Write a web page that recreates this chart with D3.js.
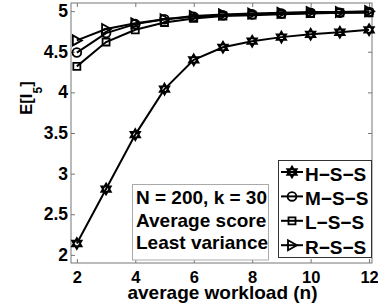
<!DOCTYPE html>
<meta charset="utf-8">
<style>
  body { margin: 0; background: #fff; }
  text { font-family: "Liberation Sans", Arial, sans-serif; font-weight: bold; fill: #000; }
</style>
<body>
<div id="chart"></div>
<script src="https://d3js.org/d3.v7.min.js"></script>
<script>
// data
var workload = [2, 3, 4, 5, 6, 7, 8, 9, 10, 11, 12];
var hss = [2.14, 2.81, 3.48, 4.04, 4.40, 4.555, 4.63, 4.68, 4.715, 4.74, 4.77];
var mss = [4.49, 4.73, 4.84, 4.90, 4.93, 4.95, 4.96, 4.97, 4.98, 4.98, 4.99];
var lss = [4.32, 4.62, 4.77, 4.86, 4.91, 4.94, 4.95, 4.96, 4.97, 4.98, 4.98];
var rss = [4.64, 4.78, 4.85, 4.90, 4.94, 4.96, 4.97, 4.98, 4.99, 4.99, 5.00];
var seriesNames = ["H\u2212S\u2212S", "M\u2212S\u2212S", "L\u2212S\u2212S", "R\u2212S\u2212S"];
var seriesMarkers = ["hexagram", "circle", "square", "triangle"];
var xTicks = [2, 4, 6, 8, 10, 12];
var yTicks = [2, 2.5, 3, 3.5, 4, 4.5, 5];
var noteLines = ["N = 200, k = 30", "Average score", "Least variance"];

var series = [hss, mss, lss, rss].map(function(vals, i) {
  return {name: seriesNames[i], marker: seriesMarkers[i],
          points: vals.map(function(v, j) { return [workload[j], v]; })};
});

var W = 378, H = 306;
var pLeft = 71, pRight = 372, pTop = 3, pBottom = 263;

var svg = d3.select("#chart").append("svg")
  .attr("width", W).attr("height", H);

var x = d3.scaleLinear().domain([1.8, 12.1]).range([pLeft, pRight]);
var y = d3.scaleLinear().domain([1.9, 5.1]).range([pBottom, pTop]);

// axes (ticks point inward, box on)
var axisColor = "#777";
function styleAxis(g, showLabels, size) {
  g.select(".domain").remove();
  g.selectAll(".tick line").attr("stroke", axisColor);
  if (!showLabels) g.selectAll(".tick text").remove();
  else g.selectAll(".tick text").attr("font-size", size).attr("font-family", "Liberation Sans, Arial, sans-serif")
      .attr("font-weight", "bold").attr("fill", "#000");
}
svg.append("g").attr("transform", "translate(0," + pBottom + ")")
  .call(d3.axisBottom(x).tickValues(xTicks).tickSizeInner(-4).tickSizeOuter(0).tickPadding(8.5).tickFormat(d3.format("d")))
  .call(styleAxis, true, 16.5);
svg.append("g").attr("transform", "translate(0," + pTop + ")")
  .call(d3.axisTop(x).tickValues(xTicks).tickSizeInner(-4).tickSizeOuter(0))
  .call(styleAxis, false);
svg.append("g").attr("transform", "translate(" + pLeft + ",0)")
  .call(d3.axisLeft(y).tickValues(yTicks).tickSizeInner(-4).tickSizeOuter(0).tickPadding(3).tickFormat(function(d) { return String(d); }))
  .call(styleAxis, true, 17.5);
svg.append("g").attr("transform", "translate(" + pRight + ",0)")
  .call(d3.axisRight(y).tickValues(yTicks).tickSizeInner(-4).tickSizeOuter(0))
  .call(styleAxis, false);
svg.append("rect")
  .attr("x", pLeft).attr("y", pTop).attr("width", pRight - pLeft).attr("height", pBottom - pTop)
  .attr("fill", "none").attr("stroke", axisColor).attr("stroke-width", 1);

// marker shapes
function markerPath(type) {
  if (type === "hexagram") {
    var r = 5.5, t1 = [], t2 = [];
    for (var k = 0; k < 3; k++) {
      var a1 = -Math.PI / 2 + k * 2 * Math.PI / 3;
      var a2 = Math.PI / 2 + k * 2 * Math.PI / 3;
      t1.push([r * Math.cos(a1), r * Math.sin(a1)]);
      t2.push([r * Math.cos(a2), r * Math.sin(a2)]);
    }
    return "M" + t1.join("L") + "Z M" + t2.join("L") + "Z";
  }
  if (type === "circle") return d3.symbol(d3.symbolCircle, 60)();
  if (type === "square") return "M-3.5,-3.5H3.5V3.5H-3.5Z";
  return "M-4,-5L5,0L-4,5Z";
}

var line = d3.line().x(function(d) { return x(d[0]); }).y(function(d) { return y(d[1]); });

var sg = svg.selectAll(".series").data(series).enter().append("g").attr("class", "series");
sg.append("path")
  .attr("d", function(d) { return line(d.points); })
  .attr("fill", "none").attr("stroke", "#000").attr("stroke-width", 2);
sg.each(function(s) {
  d3.select(this).selectAll(".mk").data(s.points).enter().append("path")
    .attr("class", "mk")
    .attr("transform", function(d) { return "translate(" + x(d[0]) + "," + y(d[1]) + ")"; })
    .attr("d", markerPath(s.marker))
    .attr("fill", "none").attr("stroke", "#000").attr("stroke-width", 1.8);
});

// axis labels
svg.append("text")
  .attr("x", 222.5).attr("y", 299)
  .attr("text-anchor", "middle").attr("font-size", 19)
  .text("average workload (n)");

var yl = svg.append("text")
  .attr("transform", "translate(31.5,98) rotate(-90)")
  .attr("text-anchor", "middle").attr("font-size", 16.5);
yl.append("tspan").text("E[I");
yl.append("tspan").attr("font-size", 12).attr("dy", 10).text("5");
yl.append("tspan").attr("dy", -10).text("]");

// annotation box
svg.append("rect")
  .attr("x", 132.5).attr("y", 184.5).attr("width", 136).attr("height", 75.5)
  .attr("fill", "#fff").attr("stroke", "#aaa").attr("stroke-width", 1);
svg.selectAll(".note").data(noteLines).enter().append("text")
  .attr("class", "note")
  .attr("x", 136).attr("y", function(d, i) { return 204 + i * 22.5; })
  .attr("font-size", 19)
  .text(function(d) { return d; });

// legend
svg.append("rect")
  .attr("x", 278.5).attr("y", 160.5).attr("width", 93).attr("height", 97)
  .attr("fill", "#fff").attr("stroke", "#333").attr("stroke-width", 1);
var lg = svg.selectAll(".leg").data(series).enter().append("g")
  .attr("class", "leg")
  .attr("transform", function(d, i) { return "translate(0," + (172 + i * 24.4) + ")"; });
lg.append("line").attr("x1", 281).attr("x2", 303).attr("y1", 0).attr("y2", 0)
  .attr("stroke", "#000").attr("stroke-width", 2);
lg.append("path")
  .attr("transform", "translate(292,0)")
  .attr("d", function(d) { return markerPath(d.marker); })
  .attr("fill", "none").attr("stroke", "#000").attr("stroke-width", 1.8);
lg.append("text")
  .attr("x", 305).attr("y", 8.5)
  .attr("font-size", 19)
  .text(function(d) { return d.name; });
</script>
</body>
